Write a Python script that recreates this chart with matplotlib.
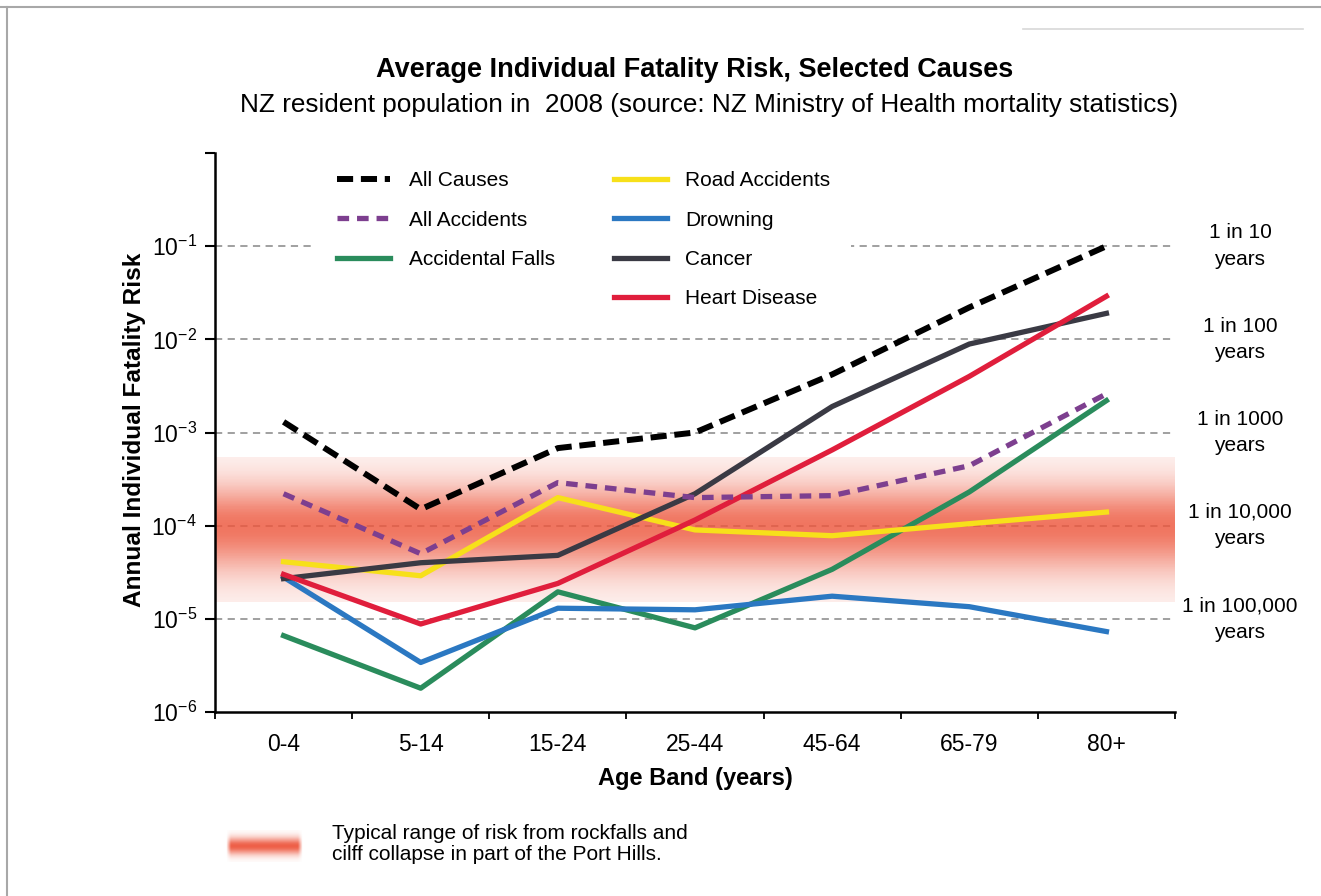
import numpy as np
import matplotlib
matplotlib.use("Agg")
import matplotlib.pyplot as plt
import matplotlib.colors as mcolors
import matplotlib.transforms as mtransforms
from matplotlib.lines import Line2D

plt.rcParams['font.family'] = ['Liberation Sans', 'DejaVu Sans']
plt.rcParams['mathtext.fontset'] = 'custom'
plt.rcParams['mathtext.rm'] = 'Liberation Sans'
plt.rcParams['mathtext.default'] = 'regular'

W, H = 1321, 896

# data
age_bands = ['0-4', '5-14', '15-24', '25-44', '45-64', '65-79', '80+']
all_causes = [1.3e-3, 1.5e-4, 6.8e-4, 1.0e-3, 4.2e-3, 2.2e-2, 1.0e-1]
all_accidents = [2.2e-4, 5.0e-5, 2.9e-4, 2.0e-4, 2.1e-4, 4.4e-4, 2.6e-3]
accidental_falls = [6.6e-6, 1.8e-6, 1.95e-5, 8.0e-6, 3.4e-5, 2.3e-4, 2.2e-3]
road_accidents = [4.1e-5, 2.9e-5, 2.0e-4, 9.0e-5, 7.8e-5, 1.05e-4, 1.4e-4]
drowning = [2.8e-5, 3.4e-6, 1.3e-5, 1.25e-5, 1.75e-5, 1.35e-5, 7.3e-6]
cancer = [2.7e-5, 4.0e-5, 4.8e-5, 2.2e-4, 1.9e-3, 8.9e-3, 1.9e-2]
heart_disease = [3.0e-5, 8.8e-6, 2.4e-5, 1.15e-4, 6.5e-4, 4.0e-3, 2.9e-2]

risk_levels = [1e-1, 1e-2, 1e-3, 1e-4, 1e-5]
risk_labels = ['1 in 10\nyears', '1 in 100\nyears', '1 in 1000\nyears',
               '1 in 10,000\nyears', '1 in 100,000\nyears']
ytick_values = [1e-6, 1e-5, 1e-4, 1e-3, 1e-2, 1e-1, 1e0]
ytick_labels = [r'$10^{-6}$', r'$10^{-5}$', r'$10^{-4}$', r'$10^{-3}$',
                r'$10^{-2}$', r'$10^{-1}$', '']

rockfall_centre = 1e-4
rockfall_low, rockfall_high = 1.5e-5, 5.5e-4

BAND_RGB = (0.93, 0.34, 0.24)


def fx(x):
    return x / W


def fy(y):
    return 1 - y / H


fig = plt.figure(figsize=(W / 100, H / 100), dpi=100)
ax = fig.add_axes([fx(215), fy(712), fx(960), (712 - 153) / H])

ax.set_yscale('log')
ax.set_ylim(1e-6, 1e0)
ax.set_xlim(-0.5, len(age_bands) - 0.5)

# dashed reference lines
for lvl in risk_levels:
    ax.axhline(lvl, color='#999999', lw=1.3, dashes=(4, 3), zorder=1)

# rockfall risk band (soft gradient in log space)
log_edges = np.linspace(np.log10(rockfall_low), np.log10(rockfall_high), 200)
centres = (log_edges[:-1] + log_edges[1:]) / 2
d = centres - np.log10(rockfall_centre)
sig = np.where(d > 0, 0.30, 0.34)
alpha = 0.08 + 0.92 * np.exp(-0.5 * (d / sig) ** 2)
band_cmap = mcolors.LinearSegmentedColormap.from_list(
    'band', [BAND_RGB + (0.0,), BAND_RGB + (0.82,)])
ax.pcolormesh([-0.5, len(age_bands) - 0.5], 10 ** log_edges, alpha[:, None],
              cmap=band_cmap, vmin=0, vmax=1, shading='flat', zorder=2)

x = np.arange(len(age_bands))
lw = 3.8
ax.plot(x, all_causes, color='black', lw=4.3, dashes=(2.7, 1.3), zorder=5, label='All Causes')
ax.plot(x, all_accidents, color='#7d3f8f', lw=lw, dashes=(2.2, 1.5), zorder=4, label='All Accidents')
ax.plot(x, accidental_falls, color='#2a8c5c', lw=lw, zorder=3, label='Accidental Falls')
ax.plot(x, road_accidents, color='#f7e01a', lw=lw, zorder=3, label='Road Accidents')
ax.plot(x, drowning, color='#2b78c2', lw=lw, zorder=3, label='Drowning')
ax.plot(x, cancer, color='#3a3a44', lw=lw, zorder=3, label='Cancer')
ax.plot(x, heart_disease, color='#e01e3c', lw=lw, zorder=3, label='Heart Disease')

handles, labels = ax.get_legend_handles_labels()
blank = Line2D([], [], color='none')
handles = handles[:3] + [blank] + handles[3:]
labels = labels[:3] + [''] + labels[3:]
leg = ax.legend(handles, labels, ncol=2, loc='upper left',
                bbox_to_anchor=(fx(306), fy(140)), bbox_transform=fig.transFigure,
                fontsize=15, frameon=True, fancybox=False, framealpha=1,
                edgecolor='none', facecolor='white', borderpad=1.0,
                handlelength=2.55, handletextpad=0.9, labelspacing=0.98,
                columnspacing=2.8)
leg.set_zorder(6)

# axes styling
for s in ['top', 'right']:
    ax.spines[s].set_visible(False)
for s in ['left', 'bottom']:
    ax.spines[s].set_linewidth(1.8)

ax.set_yticks(ytick_values)
ax.set_yticklabels(ytick_labels)
ax.yaxis.set_minor_locator(matplotlib.ticker.NullLocator())
ax.tick_params(axis='y', which='major', length=7, width=1.5, labelsize=16.5, pad=6)

ax.set_xticks(np.arange(-0.5, len(age_bands), 1.0))
ax.set_xticklabels([])
ax.set_xticks(x, minor=True)
ax.set_xticklabels(age_bands, minor=True)
ax.tick_params(axis='x', which='major', length=5, width=1.3)
ax.tick_params(axis='x', which='minor', length=0, labelsize=16.5, pad=15)

# right-hand labels
trans = mtransforms.blended_transform_factory(ax.transAxes, ax.transData)
for lvl, lab in zip(risk_levels, risk_labels):
    ax.text((1240 - 215) / 960, lvl, lab, transform=trans, ha='center', va='center',
            fontsize=15, linespacing=1.5)

# titles and axis labels
fig.text(fx(695), fy(70), 'Average Individual Fatality Risk, Selected Causes',
         ha='center', va='center', fontsize=19.5, fontweight='bold')
fig.text(fx(709), fy(105),
         'NZ resident population in  2008 (source: NZ Ministry of Health mortality statistics)',
         ha='center', va='center', fontsize=18.8)
fig.text(fx(134), fy(430), 'Annual Individual Fatality Risk', rotation=90,
         ha='center', va='center', fontsize=17.6, fontweight='bold')
fig.text(fx(695), fy(778), 'Age Band (years)', ha='center', va='center',
         fontsize=17, fontweight='bold')

# bottom key for the rockfall band
kax = fig.add_axes([fx(226), fy(862), fx(76), 32 / H])
ky = np.linspace(-1, 1, 40)
kx = np.linspace(-1, 1, 90)
ka = np.exp(-0.5 * (ky / 0.38) ** 2)[:, None] * np.clip((1 - np.abs(kx)) / 0.12, 0, 1)[None, :]
img = np.zeros((40, 90, 4))
img[..., :3] = BAND_RGB
img[..., 3] = 0.95 * ka
kax.imshow(img, aspect='auto', interpolation='bilinear')
kax.axis('off')
fig.text(fx(332), fy(844), 'Typical range of risk from rockfalls and\ncilff collapse in part of the Port Hills.',
         ha='left', va='center', fontsize=15, linespacing=1.1)

# page frame lines
fig.add_artist(Line2D([0, 1], [fy(7), fy(7)], transform=fig.transFigure, color='#a8a8a8', lw=1.5))
fig.add_artist(Line2D([fx(7), fx(7)], [0, fy(7)], transform=fig.transFigure, color='#a8a8a8', lw=1.5))
fig.add_artist(Line2D([fx(1023), fx(1303)], [fy(29), fy(29)], transform=fig.transFigure,
                      color='#d8d8d8', lw=1.2))

fig.savefig('out.png', dpi=100)
